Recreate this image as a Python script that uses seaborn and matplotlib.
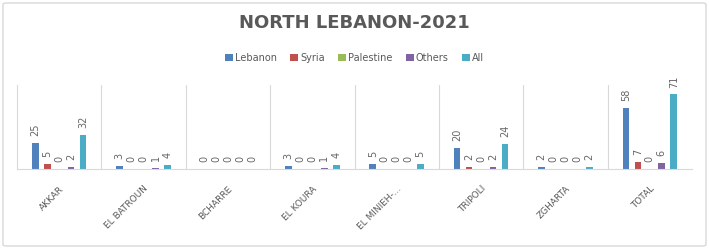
import matplotlib
matplotlib.use("Agg")
import matplotlib.pyplot as plt
import seaborn as sns
import pandas as pd
from matplotlib.patches import FancyBboxPatch

districts = ["AKKAR", "EL BATROUN", "BCHARRE", "EL KOURA", "EL MINIEH-...", "TRIPOLI", "ZGHARTA", "TOTAL"]
series = ["Lebanon", "Syria", "Palestine", "Others", "All"]
lebanon = [25, 3, 0, 3, 5, 20, 2, 58]
syria = [5, 0, 0, 0, 0, 2, 0, 7]
palestine = [0, 0, 0, 0, 0, 0, 0, 0]
others = [2, 1, 0, 1, 0, 2, 0, 6]
all_ = [32, 4, 0, 4, 5, 24, 2, 71]
colors = ["#4F81BD", "#C0504D", "#9BBB59", "#8064A2", "#4BACC6"]

rows = []
for name, vals in zip(series, [lebanon, syria, palestine, others, all_]):
    for d, v in zip(districts, vals):
        rows.append({"district": d, "series": name, "value": v})
df = pd.DataFrame(rows)

sns.set_theme(style="white")
plt.rcParams["font.family"] = ["DejaVu Sans"]

fig = plt.figure(figsize=(7.09, 2.49), dpi=100)
ax = fig.add_axes([17/709, 1-169/249, (692-17)/709, (169-85)/249])

sns.barplot(data=df, x="district", y="value", hue="series", order=districts,
            hue_order=series, palette=colors, width=0.71, gap=0.45,
            saturation=1, linewidth=0, ax=ax, legend=True)

ax.set_ylim(0, 80)
ax.set_xlim(-0.5, len(districts) - 0.5)
ax.set_xlabel("")
ax.set_ylabel("")
ax.set_yticks([])

for c in ax.containers:
    ax.bar_label(c, rotation=90, padding=5, fontsize=7, color="#666666", clip_on=False)

# category separators
for k in range(1, len(districts)):
    ax.axvline(k - 0.5, color="#D9D9D9", lw=0.8, zorder=0)

for s in ["top", "right"]:
    ax.spines[s].set_visible(False)
for s in ["left", "bottom"]:
    ax.spines[s].set_color("#D9D9D9")
    ax.spines[s].set_linewidth(0.8)

ax.tick_params(axis="x", length=0, pad=11, labelsize=6.5, labelcolor="#595959")
for lbl in ax.get_xticklabels():
    lbl.set_rotation(45)
    lbl.set_ha("right")
    lbl.set_rotation_mode("anchor")

handles, labels = ax.get_legend_handles_labels()
ax.get_legend().remove()
fig.legend(handles, labels, loc="center", bbox_to_anchor=(0.5, 1-58/249), ncol=5,
           frameon=False, fontsize=7, handlelength=0.8, handleheight=0.8,
           handletextpad=0.2, columnspacing=1.4, labelcolor="#595959")

fig.text(0.5, 1-23/249, "NORTH LEBANON-2021", ha="center", va="center",
         fontsize=13, fontweight="bold", color="#595959")

border = FancyBboxPatch((3/709, 3/249), 703/709, 243/249,
                        boxstyle="round,pad=0,rounding_size=0.005",
                        transform=fig.transFigure, fill=False,
                        edgecolor="#D9D9D9", lw=1)
fig.patches.append(border)

fig.savefig("out.png", dpi=100)
